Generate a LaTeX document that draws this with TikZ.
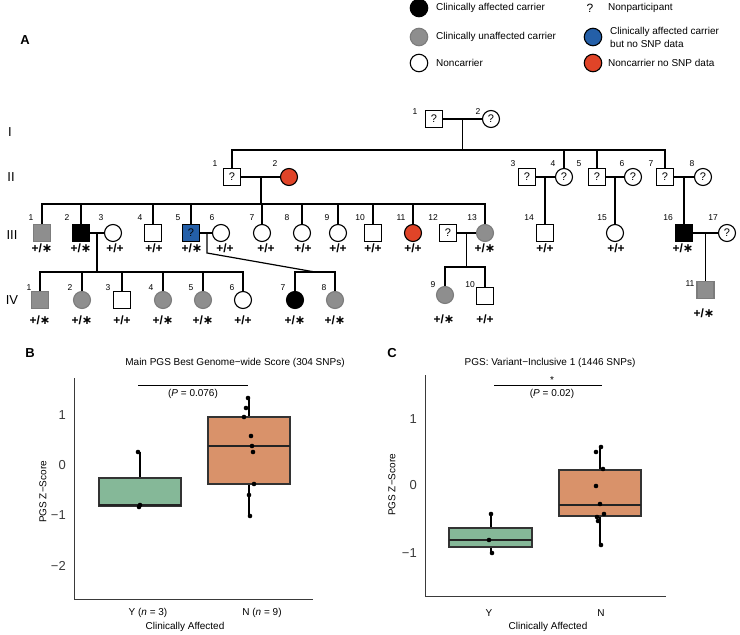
\documentclass[tikz,border=0pt]{standalone}
\usepackage{fontspec}
\setmainfont{Liberation Sans}
\newfontfamily\djv{DejaVu Sans}
\usetikzlibrary{calc}
\definecolor{cgray}{HTML}{8E8E8E}
\definecolor{cgrayb}{HTML}{7C7C7C}
\definecolor{cred}{HTML}{E04428}
\definecolor{cblue}{HTML}{245FA8}
\definecolor{cgreen}{HTML}{85B898}
\definecolor{corange}{HTML}{D9926A}
\definecolor{cbox}{HTML}{333333}
\definecolor{ctick}{HTML}{3A3A3A}
\newcommand\gs{+/{\djv\fontsize{12.5}{13}\selectfont ∗}}
\newcommand\gp{+/+}
\tikzset{
 ped/.style={line width=1.2pt, black},
 male/.style={draw, rectangle, minimum size=17pt, inner sep=0pt, line width=1.1pt, fill=white},
 female/.style={draw, circle, minimum size=17pt, inner sep=0pt, line width=1.1pt, fill=white},
 aff/.style={fill=black},
 unaff/.style={fill=cgray, draw=cgrayb},
 bluef/.style={fill=cblue},
 redf/.style={fill=cred},
 qmark/.style={font=\fontsize{11}{12}\selectfont},
 num/.style={font=\fontsize{8.5}{9}\selectfont, inner sep=0pt},
 geno/.style={font=\bfseries\fontsize{12}{13}\selectfont, inner sep=0pt},
 gen/.style={font=\fontsize{13}{14}\selectfont, inner sep=0pt},
 legtxt/.style={font=\fontsize{10}{13}\selectfont, anchor=west, inner sep=0pt, align=left},
 panel/.style={font=\bfseries\fontsize{13}{14}\selectfont, inner sep=0pt},
 ttl/.style={font=\fontsize{10}{11}\selectfont, inner sep=0pt},
 tick/.style={font=\fontsize{13}{14}\selectfont, anchor=east, inner sep=0pt, text=ctick},
 axlbl/.style={font=\fontsize{10}{11}\selectfont, inner sep=0pt},
 axisl/.style={draw=ctick, line width=1pt},
 bx/.style={draw=cbox, line width=1.3pt},
 med/.style={draw=cbox!70!black, line width=2.5pt},
 wh/.style={draw=black, line width=1.1pt},
 dot/.style={circle, fill=black, inner sep=0pt, minimum size=4.6pt},
 sig/.style={draw=black, line width=0.6pt}
}
\begin{document}
\begin{tikzpicture}[x=1pt,y=-1pt]
\useasboundingbox (0,0) rectangle (740,635);
% ---------------- Legend ----------------
\node[female, aff, minimum size=17.5pt] (L1) at (419,8) {};
\node[legtxt] (L1t) at (436,8) {Clinically affected carrier};
\node[female, unaff, minimum size=17.5pt] (L2) at (419,37) {};
\node[legtxt] (L2t) at (436,37) {Clinically unaffected carrier};
\node[female, minimum size=17.5pt] (L3) at (419,63) {};
\node[legtxt] (L3t) at (436,63) {Noncarrier};
\node[font=\fontsize{12}{13}\selectfont, inner sep=0pt] (L4) at (590,8) {?};
\node[legtxt] (L4t) at (608,8) {Nonparticipant};
\node[female, bluef, minimum size=17.5pt] (L5) at (593,37) {};
\node[legtxt] (L5t) at (610,37) {Clinically affected carrier\\but no SNP data};
\node[female, redf, minimum size=17.5pt] (L6) at (593,63) {};
\node[legtxt] (L6t) at (608,63) {Noncarrier no SNP data};
% ---------------- Panel A ----------------
\node[panel] (pA) at (25,40) {A};
\node[gen] (gI) at (10,132) {I};
\node[gen] (gII) at (11,177) {II};
\node[gen] (gIII) at (12,235) {III};
\node[gen] (gIV) at (12,300) {IV};
% Generation I
\node[male,qmark] (I1) at (434,119) {?};
\node[female,qmark] (I2) at (491,119) {?};
\node[num] (nI1) at (415,112) {1};
\node[num] (nI2) at (478,112) {2};
% Generation II
\node[male,qmark] (II1) at (232,177) {?};
\node[female,redf] (II2) at (289,177) {};
\node[male,qmark] (II3) at (527,177) {?};
\node[female,qmark] (II4) at (564,177) {?};
\node[male,qmark] (II5) at (597,177) {?};
\node[female,qmark] (II6) at (633,177) {?};
\node[male,qmark] (II7) at (665,177) {?};
\node[female,qmark] (II8) at (703,177) {?};
\node[num] (nII1) at (215,164) {1};
\node[num] (nII2) at (275,164) {2};
\node[num] (nII3) at (513,164) {3};
\node[num] (nII4) at (553,164) {4};
\node[num] (nII5) at (579,164) {5};
\node[num] (nII6) at (622,164) {6};
\node[num] (nII7) at (651,164) {7};
\node[num] (nII8) at (692,164) {8};
% Generation III
\node[male,unaff] (III1) at (42,233) {};
\node[male,aff] (III2) at (81,233) {};
\node[female] (III3) at (113,233) {};
\node[male] (III4) at (153,233) {};
\node[male,bluef,qmark] (III5) at (191,233) {?};
\node[female] (III6) at (221,233) {};
\node[female] (III7) at (262,233) {};
\node[female] (III8) at (302,233) {};
\node[female] (III9) at (338,233) {};
\node[male] (III10) at (373,233) {};
\node[female,redf] (III11) at (413,233) {};
\node[male,qmark] (III12) at (448,233) {?};
\node[female,unaff] (III13) at (485,233) {};
\node[male] (III14) at (545,233) {};
\node[female] (III15) at (615,233) {};
\node[male,aff] (III16) at (684,233) {};
\node[female,qmark] (III17) at (727,233) {?};
\foreach \n/\x in {1/31,2/67,3/101,4/140,5/178,6/212,7/252,8/287,9/327,10/360,11/401,12/433,13/472,14/529,15/602,16/668,17/713}
  \node[num] (nIII\n) at (\x,218) {\n};
\foreach \n/\x/\g in {1/42/\gs,2/81/\gs,3/115/\gp,4/154/\gp,5/192/\gs,6/225/\gp,7/266/\gp,8/303/\gp,9/338/\gp,10/373/\gp,11/413/\gp,13/485/\gs,14/545/\gp,15/616/\gp,16/683/\gs}
  \node[geno] (gIII\n) at (\x,248) {\g};
% Generation IV
\node[male,unaff] (IV1) at (40,300) {};
\node[female,unaff] (IV2) at (82,300) {};
\node[male] (IV3) at (122,300) {};
\node[female,unaff] (IV4) at (163,300) {};
\node[female,unaff] (IV5) at (203,300) {};
\node[female] (IV6) at (243,300) {};
\node[female,aff] (IV7) at (295,300) {};
\node[female,unaff] (IV8) at (335,300) {};
\node[female,unaff] (IV9) at (445,295) {};
\node[male] (IV10) at (485,296) {};
\node[male,unaff] (IV11) at (705.5,290) {};
\foreach \n/\x in {1/29,2/70,3/108,4/151,5/191,6/232,7/283,8/324}
  \node[num] (nIV\n) at (\x,288) {\n};
\node[num] (nIV9) at (433,285) {9};
\node[num] (nIV10) at (470,285) {10};
\node[num] (nIV11) at (690,284) {11};
\foreach \n/\x/\g in {1/40/\gs,2/82/\gs,3/122/\gp,4/163/\gs,5/203/\gs,6/243/\gp,7/295/\gs,8/335/\gs}
  \node[geno] (gIV\n) at (\x,320) {\g};
\node[geno] (gIV9) at (444,319) {\gs};
\node[geno] (gIV10) at (485,319) {\gp};
\node[geno] (gIV11) at (704,313) {\gs};
% Connectors
\coordinate (mI) at (462.5,119);
\coordinate (sI) at (462.5,150);
\draw[ped] (I1) -- (I2);
\draw[ped] (mI) -- (sI);
\foreach \c in {II1,II4,II5,II7} \draw[ped] (\c.north) |- (sI);
\coordinate (mII) at (261,177);
\coordinate (sII) at (261,204);
\draw[ped] (II1) -- (II2);
\draw[ped] (mII) -- (sII);
\foreach \c in {III1,III2,III4,III5,III7,III8,III9,III10,III11,III13} \draw[ped] (\c.north) |- (sII);
\coordinate (mII34) at (545,177);
\draw[ped] (II3) -- (II4);
\draw[ped] (mII34) -- (III14);
\coordinate (mII56) at (615,177);
\draw[ped] (II5) -- (II6);
\draw[ped] (mII56) -- (III15);
\coordinate (mII78) at (684,177);
\draw[ped] (II7) -- (II8);
\draw[ped] (mII78) -- (III16);
\coordinate (mIII23) at (97,233);
\coordinate (sIVa) at (97,272);
\draw[ped] (III2) -- (III3);
\draw[ped] (mIII23) -- (sIVa);
\foreach \c in {IV1,IV2,IV3,IV4,IV5,IV6} \draw[ped] (\c.north) |- (sIVa);
\coordinate (mIII56) at (207,233);
\coordinate (kIII56) at (207,253);
\coordinate (sIVb) at (315,272);
\draw[ped] (III5) -- (III6);
\draw[ped] (mIII56) -- (kIII56) -- (sIVb);
\foreach \c in {IV7,IV8} \draw[ped] (\c.north) |- (sIVb);
\coordinate (mIII1213) at (466.5,233);
\coordinate (sIVc) at (466.5,267);
\draw[ped] (III12) -- (III13);
\draw[ped] (mIII1213) -- (sIVc);
\foreach \c in {IV9,IV10} \draw[ped] (\c.north) |- (sIVc);
\coordinate (mIII1617) at (705.5,233);
\draw[ped] (III16) -- (III17);
\draw[ped] (mIII1617) -- (IV11);
% ---------------- Panel B ----------------
\node[panel] (pB) at (30,353) {B};
\node[ttl] (tB) at (235,363) {Main PGS Best Genome−wide Score (304 SNPs)};
\draw[axisl] (74,378) -- (74,599) -- (313,599);
\node[tick] (tB1) at (66,415) {1};
\node[tick] (tB0) at (66,465) {0};
\node[tick] (tBm1) at (66,515) {−1};
\node[tick] (tBm2) at (66,566) {−2};
\node[axlbl, rotate=90] (yB) at (43,492) {PGS Z−Score};
\draw[wh] (140,478) -- (140,452);
\draw[bx, fill=cgreen] (99,478) rectangle (181,506);
\draw[med] (99,505) -- (181,505);
\draw[wh] (249,417) -- (249,398);
\draw[wh] (249,484) -- (249,516);
\draw[bx, fill=corange] (208,417) rectangle (290,484);
\draw[med] (208,446) -- (290,446);
\foreach \x/\y [count=\i] in {138/452,140/505,139/507}
  \node[dot] (dBy\i) at (\x,\y) {};
\foreach \x/\y [count=\i] in {248/398,246/408,244/417,251/436,252/446,253/452,254/484,249/495,250/516}
  \node[dot] (dBn\i) at (\x,\y) {};
\draw[sig] (138,385) -- (248,385);
\node[axlbl] (pvB) at (193,394) {(\textit{P} = 0.076)};
\node[axlbl] (xBy) at (148,613) {Y (\textit{n} = 3)};
\node[axlbl] (xBn) at (262,613) {N (\textit{n} = 9)};
\node[axlbl] (xB) at (185,627) {Clinically Affected};
% ---------------- Panel C ----------------
\node[panel] (pC) at (392,353) {C};
\node[ttl] (tC) at (550,363) {PGS: Variant−Inclusive 1 (1446 SNPs)};
\draw[axisl] (425,375) -- (425,596) -- (666,596);
\node[tick] (tC1) at (417,419) {1};
\node[tick] (tC0) at (417,485) {0};
\node[tick] (tCm1) at (417,553) {−1};
\node[axlbl, rotate=90] (yC) at (392,485) {PGS Z−Score};
\draw[wh] (491,528) -- (491,514);
\draw[wh] (491,547) -- (491,553);
\draw[bx, fill=cgreen] (449,528) rectangle (532,547);
\draw[med] (449,540) -- (532,540);
\draw[wh] (600,470) -- (600,447);
\draw[wh] (600,516) -- (600,545);
\draw[bx, fill=corange] (559,470) rectangle (641,516);
\draw[med] (559,505) -- (641,505);
\foreach \x/\y [count=\i] in {491/514,489/540,492/553}
  \node[dot] (dCy\i) at (\x,\y) {};
\foreach \x/\y [count=\i] in {601/447,596/452,603/469,596/486,600/504,604/514,597/517,598/521,601/545}
  \node[dot] (dCn\i) at (\x,\y) {};
\draw[sig] (494,385) -- (602,385);
\node[axlbl] (stC) at (552,380) {*};
\node[axlbl] (pvC) at (552,394) {(\textit{P} = 0.02)};
\node[axlbl] (xCy) at (489,613) {Y};
\node[axlbl] (xCn) at (601,613) {N};
\node[axlbl] (xC) at (548,627) {Clinically Affected};
\end{tikzpicture}
\end{document}
